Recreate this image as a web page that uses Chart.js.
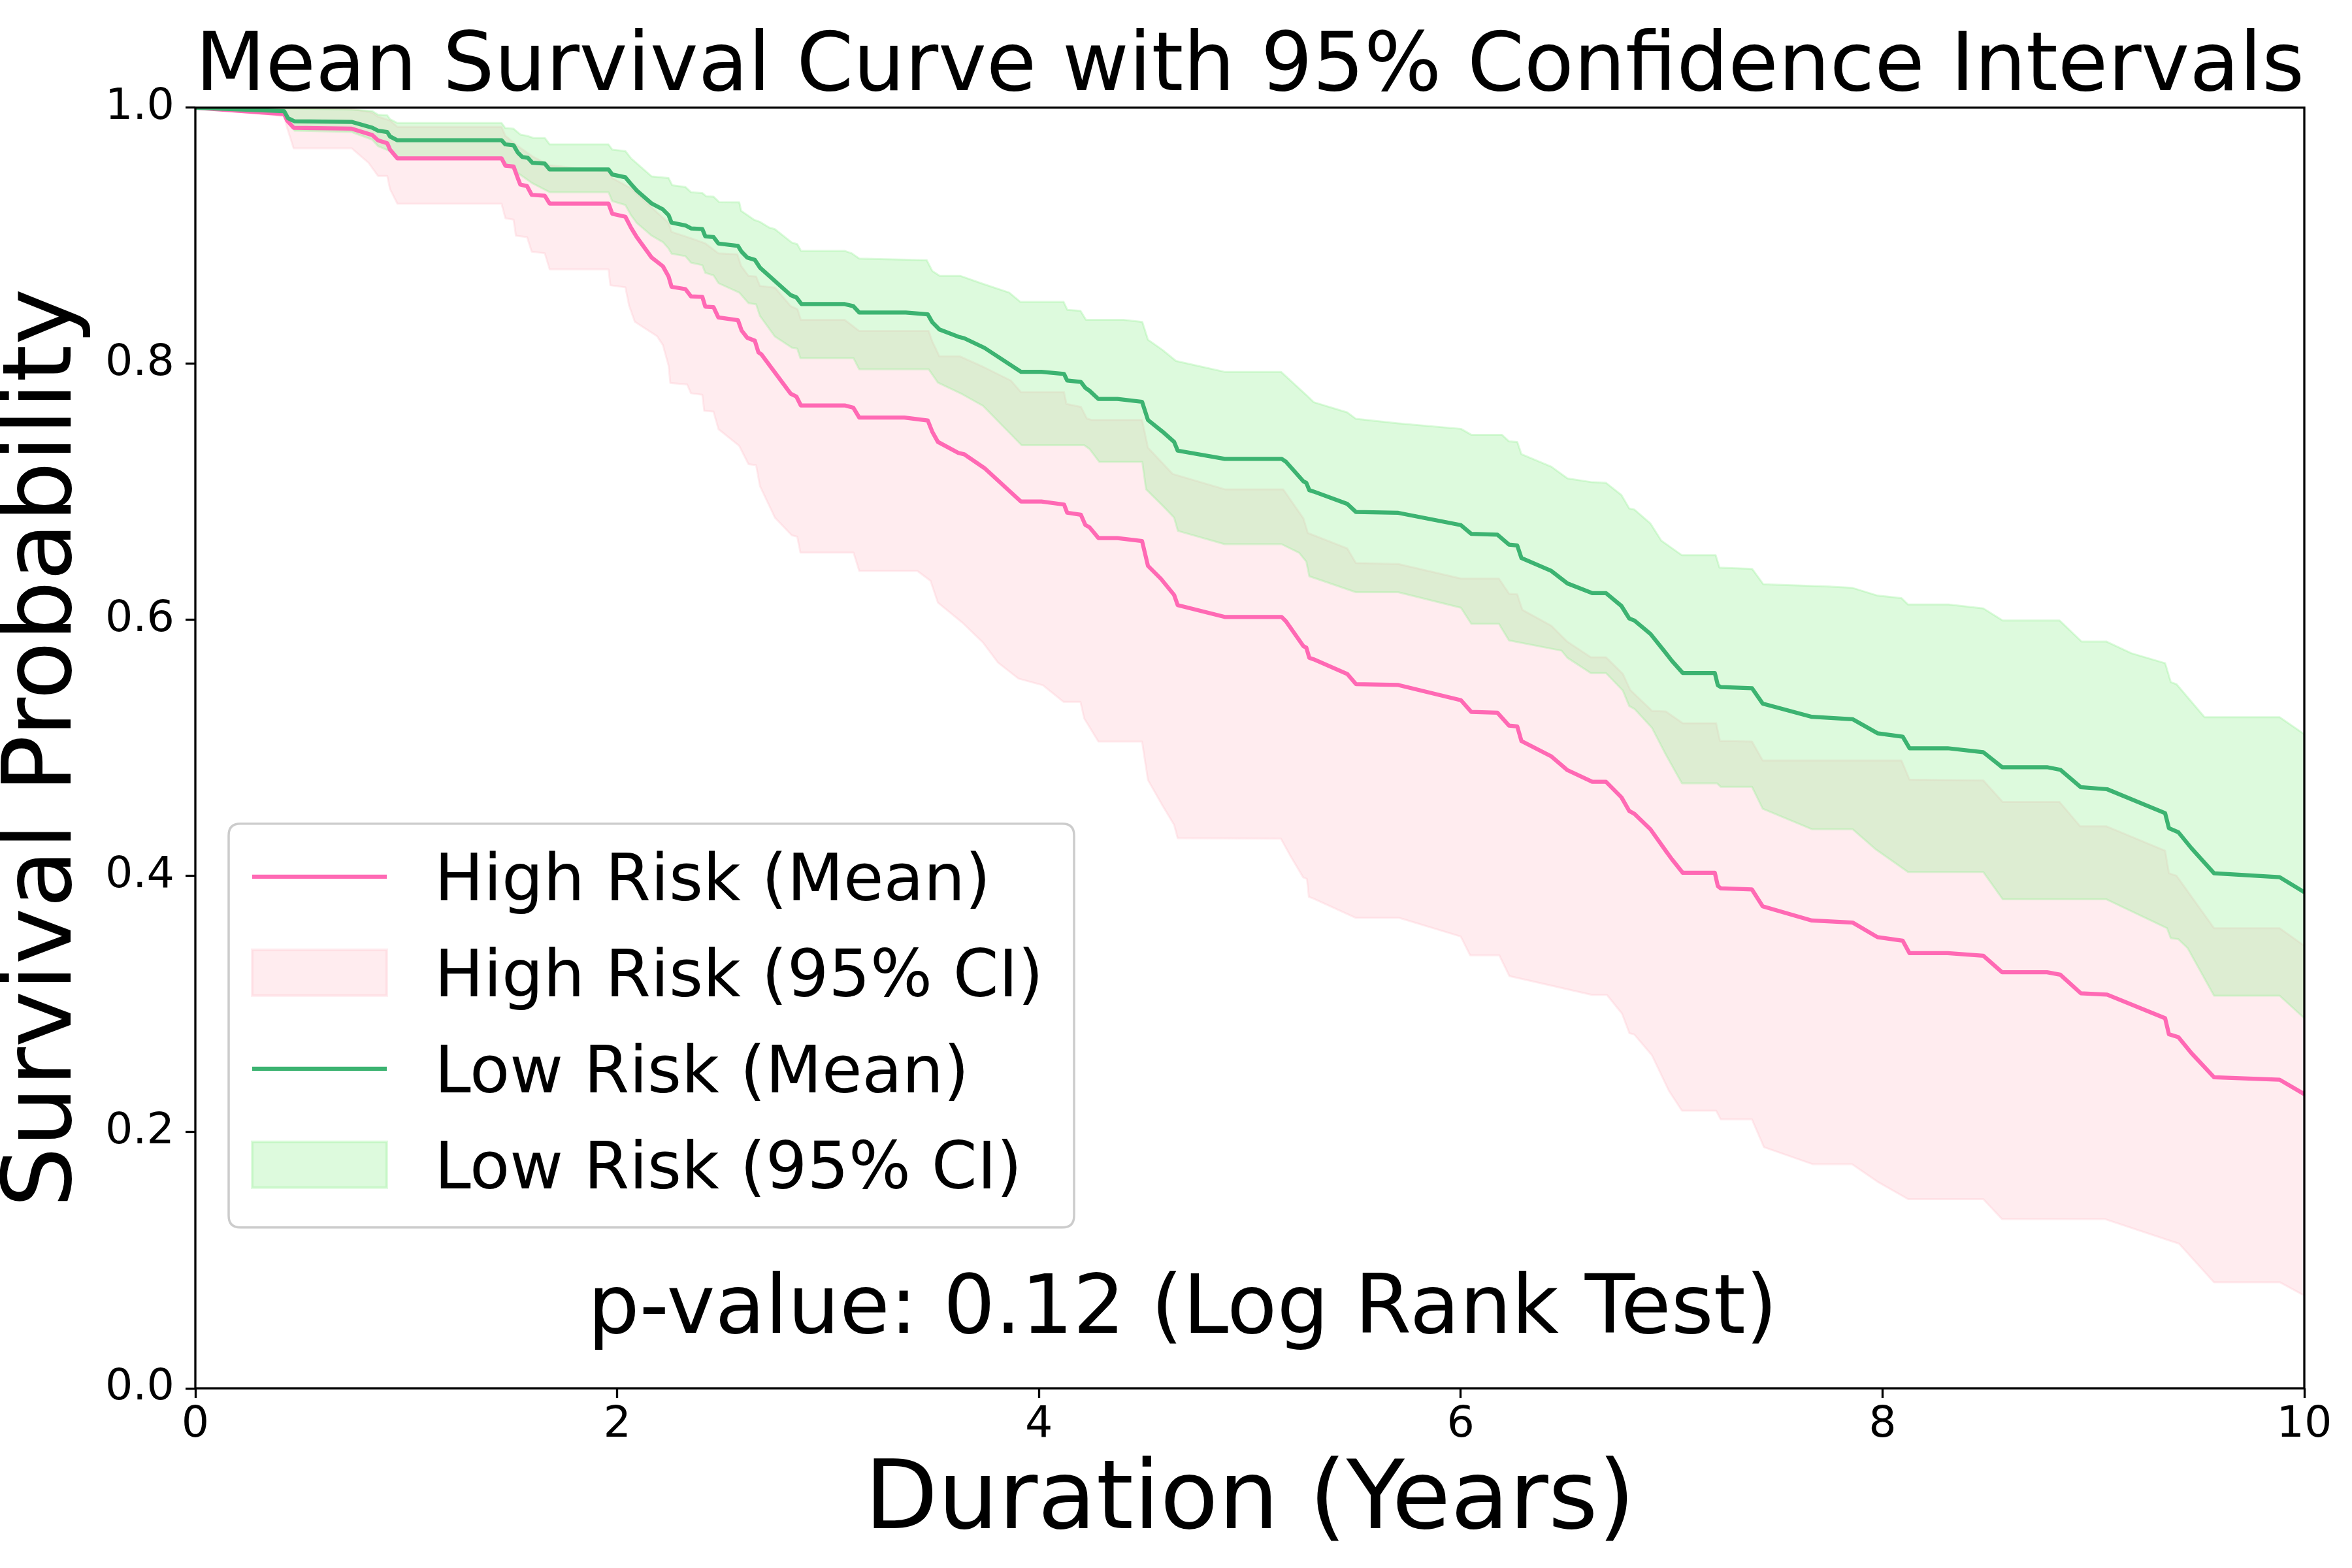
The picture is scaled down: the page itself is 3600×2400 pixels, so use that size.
<!DOCTYPE html>
<html>
<head>
<meta charset="utf-8">
<script src="https://cdn.jsdelivr.net/npm/chart.js@4.4.1/dist/chart.umd.min.js"></script>
<style>html,body{margin:0;padding:0;background:#fff;}canvas{display:block;}</style>
</head>
<body>
<canvas id="c" width="3600" height="2400" style="width:3600px;height:2400px"></canvas>
<script>
// ---------------- DATA ----------------
const chartTitle = 'Mean Survival Curve with 95% Confidence Intervals';
const xAxisTitle = 'Duration (Years)';
const yAxisTitle = 'Survival Probability';
const pValueText = 'p-value: 0.12 (Log Rank Test)';
const xTicks = [0, 2, 4, 6, 8, 10];
const yTicks = [0.0, 0.2, 0.4, 0.6, 0.8, 1.0];
const seriesLabels = ['High Risk (Mean)', 'High Risk (95% CI)', 'Low Risk (Mean)', 'Low Risk (95% CI)'];

// [time (years), survival probability]
const highRiskMean = [[0,1.0],[0.421,0.995],[0.435,0.990],[0.466,0.9843],[0.741,0.9836],[0.839,0.9786],[0.866,0.9745],[0.910,0.9722],[0.923,0.9672],[0.958,0.9604],[1.452,0.9604],[1.470,0.9547],[1.509,0.954],[1.529,0.9449],[1.541,0.9399],[1.573,0.9387],[1.595,0.9319],[1.657,0.9312],[1.680,0.9251],[1.959,0.9251],[1.977,0.9171],[2.039,0.9148],[2.066,0.9062],[2.093,0.8989],[2.164,0.8829],[2.217,0.8761],[2.244,0.8681],[2.258,0.8601],[2.324,0.8583],[2.350,0.8526],[2.404,0.8522],[2.418,0.8446],[2.457,0.8442],[2.480,0.8362],[2.573,0.834],[2.590,0.826],[2.617,0.8203],[2.653,0.818],[2.670,0.8089],[2.684,0.8074],[2.823,0.7766],[2.850,0.7744],[2.871,0.7675],[3.079,0.7675],[3.120,0.7657],[3.148,0.758],[3.362,0.758],[3.473,0.7557],[3.494,0.747],[3.521,0.739],[3.618,0.7304],[3.646,0.7293],[3.742,0.7185],[3.915,0.6924],[4.012,0.6924],[4.119,0.6901],[4.134,0.6837],[4.199,0.6821],[4.220,0.6741],[4.240,0.6723],[4.282,0.6639],[4.372,0.6639],[4.489,0.6616],[4.517,0.6422],[4.579,0.632],[4.641,0.6195],[4.658,0.6115],[4.881,0.6023],[5.151,0.6023],[5.172,0.5988],[5.254,0.5795],[5.268,0.5783],[5.282,0.5704],[5.303,0.5692],[5.462,0.5578],[5.503,0.5499],[5.704,0.5492],[6.001,0.5373],[6.050,0.5282],[6.174,0.5275],[6.229,0.5175],[6.268,0.5168],[6.288,0.5054],[6.430,0.4934],[6.506,0.4827],[6.624,0.4736],[6.689,0.4736],[6.762,0.4615],[6.799,0.4508],[6.824,0.4485],[6.900,0.4364],[6.973,0.4195],[7.001,0.4132],[7.053,0.4025],[7.205,0.4025],[7.219,0.3922],[7.233,0.3904],[7.381,0.3895],[7.432,0.3763],[7.665,0.3653],[7.858,0.3637],[7.976,0.3523],[8.096,0.3495],[8.128,0.3398],[8.309,0.3398],[8.478,0.3378],[8.567,0.3249],[8.780,0.3249],[8.843,0.3230],[8.940,0.3085],[9.065,0.3074],[9.340,0.289],[9.358,0.2765],[9.403,0.2742],[9.465,0.2617],[9.572,0.2429],[9.883,0.241],[10.0,0.2297]];

const highRiskUpper = [[0,1.0],[0.42,1.0],[0.74,0.999],[0.839,0.996],[0.866,0.993],[0.923,0.990],[0.958,0.985],[1.452,0.985],[1.470,0.978],[1.529,0.970],[1.598,0.962],[1.680,0.955],[1.959,0.9501],[1.977,0.945],[2.066,0.937],[2.164,0.922],[2.244,0.910],[2.258,0.903],[2.350,0.898],[2.418,0.894],[2.480,0.8863],[2.570,0.8855],[2.588,0.8764],[2.623,0.8686],[2.659,0.8681],[2.677,0.8608],[2.748,0.8595],[2.823,0.845],[2.855,0.8427],[2.871,0.8343],[3.079,0.8343],[3.148,0.8256],[3.477,0.8256],[3.494,0.8176],[3.528,0.8058],[3.625,0.8058],[3.742,0.7971],[3.867,0.7869],[3.915,0.7778],[4.119,0.7778],[4.130,0.7687],[4.199,0.7664],[4.227,0.7573],[4.251,0.7561],[4.489,0.7561],[4.517,0.7345],[4.634,0.714],[4.881,0.702],[5.158,0.702],[5.254,0.6793],[5.275,0.6679],[5.462,0.6558],[5.503,0.6444],[5.704,0.6437],[6.001,0.6323],[6.181,0.6323],[6.229,0.6205],[6.268,0.62],[6.292,0.6079],[6.430,0.5954],[6.506,0.5829],[6.617,0.5708],[6.689,0.5708],[6.769,0.5578],[6.804,0.5453],[6.907,0.5290],[6.973,0.5285],[7.053,0.5193],[7.211,0.5193],[7.229,0.5056],[7.381,0.505],[7.432,0.4902],[8.090,0.4902],[8.128,0.4753],[8.478,0.4747],[8.570,0.4578],[8.840,0.4578],[8.937,0.4389],[9.061,0.4389],[9.340,0.4198],[9.358,0.4022],[9.394,0.4003],[9.572,0.3593],[9.883,0.3593],[10.0,0.3456]];

const highRiskLower = [[0,1.0],[0.421,0.9934],[0.435,0.9843],[0.466,0.9683],[0.741,0.9683],[0.821,0.957],[0.866,0.9467],[0.910,0.9467],[0.923,0.9364],[0.958,0.925],[1.452,0.925],[1.470,0.9137],[1.509,0.9125],[1.520,0.900],[1.573,0.8989],[1.595,0.8875],[1.657,0.8863],[1.680,0.8738],[1.959,0.8738],[1.968,0.8613],[2.039,0.8597],[2.057,0.8453],[2.084,0.8328],[2.190,0.8214],[2.217,0.8146],[2.244,0.7986],[2.252,0.785],[2.332,0.7838],[2.350,0.777],[2.404,0.7758],[2.413,0.7633],[2.457,0.7626],[2.481,0.7489],[2.579,0.7359],[2.623,0.7216],[2.659,0.7208],[2.677,0.7046],[2.748,0.6799],[2.828,0.6661],[2.854,0.665],[2.869,0.6526],[3.121,0.6526],[3.148,0.6383],[3.423,0.6383],[3.486,0.6305],[3.521,0.6135],[3.637,0.5979],[3.735,0.5823],[3.806,0.5667],[3.903,0.5542],[4.019,0.549],[4.117,0.536],[4.197,0.536],[4.215,0.523],[4.282,0.505],[4.489,0.505],[4.517,0.475],[4.586,0.455],[4.641,0.44],[4.658,0.4296],[5.147,0.4293],[5.191,0.4162],[5.253,0.399],[5.271,0.3977],[5.280,0.3837],[5.298,0.3827],[5.502,0.3674],[5.707,0.3674],[6.000,0.3528],[6.045,0.3381],[6.183,0.3381],[6.231,0.3219],[6.622,0.3072],[6.693,0.3072],[6.765,0.2926],[6.800,0.2773],[6.823,0.2763],[6.907,0.26],[6.987,0.2324],[7.049,0.2168],[7.211,0.2168],[7.233,0.21],[7.381,0.21],[7.438,0.1883],[7.669,0.175],[7.856,0.175],[7.980,0.161],[8.122,0.1477],[8.478,0.1477],[8.567,0.1321],[9.056,0.1321],[9.372,0.1148],[9.406,0.113],[9.572,0.0828],[9.884,0.0828],[10.0,0.0725]];

const lowRiskMean = [[0,1.0],[0.421,0.9973],[0.439,0.9918],[0.471,0.9893],[0.741,0.9889],[0.839,0.9843],[0.866,0.982],[0.910,0.9809],[0.923,0.9775],[0.958,0.9745],[1.452,0.9745],[1.470,0.9713],[1.509,0.9706],[1.529,0.9649],[1.550,0.9615],[1.577,0.9608],[1.598,0.957],[1.657,0.9563],[1.680,0.9517],[1.959,0.9517],[1.977,0.9478],[2.039,0.9456],[2.066,0.9403],[2.093,0.9353],[2.164,0.9251],[2.217,0.9205],[2.244,0.916],[2.258,0.9102],[2.324,0.908],[2.350,0.9057],[2.404,0.9052],[2.418,0.8995],[2.457,0.8989],[2.480,0.8939],[2.573,0.892],[2.590,0.8875],[2.617,0.8829],[2.653,0.8811],[2.677,0.8751],[2.823,0.8536],[2.850,0.8518],[2.874,0.8466],[3.079,0.8466],[3.120,0.845],[3.148,0.840],[3.369,0.840],[3.473,0.8386],[3.494,0.8325],[3.528,0.8268],[3.618,0.8211],[3.646,0.8199],[3.742,0.8124],[3.915,0.7937],[4.012,0.7937],[4.119,0.7921],[4.134,0.7869],[4.199,0.7858],[4.220,0.7812],[4.240,0.7789],[4.282,0.7725],[4.372,0.7725],[4.489,0.7703],[4.517,0.7561],[4.586,0.747],[4.641,0.739],[4.658,0.7322],[4.881,0.7257],[5.151,0.7257],[5.172,0.7234],[5.254,0.7082],[5.268,0.707],[5.282,0.7013],[5.303,0.7002],[5.462,0.6906],[5.503,0.6843],[5.704,0.6836],[6.001,0.674],[6.050,0.6672],[6.174,0.6665],[6.229,0.6588],[6.268,0.6581],[6.288,0.6483],[6.430,0.6382],[6.506,0.6285],[6.624,0.6209],[6.689,0.6209],[6.762,0.6109],[6.799,0.6011],[6.824,0.5995],[6.900,0.589],[6.973,0.574],[7.001,0.5681],[7.053,0.5585],[7.205,0.5585],[7.219,0.549],[7.233,0.5476],[7.381,0.5467],[7.432,0.5346],[7.665,0.5243],[7.858,0.5225],[7.976,0.5115],[8.096,0.5088],[8.128,0.4998],[8.309,0.4998],[8.478,0.4967],[8.567,0.485],[8.780,0.485],[8.843,0.483],[8.940,0.4694],[9.065,0.4678],[9.340,0.4491],[9.358,0.4374],[9.403,0.4342],[9.465,0.4217],[9.572,0.4022],[9.883,0.3991],[10.0,0.3874]];

const lowRiskUpper = [[0,1.0],[0.421,0.9995],[0.74,0.9985],[0.839,0.9973],[0.866,0.9945],[0.910,0.994],[0.923,0.991],[0.958,0.988],[1.452,0.988],[1.470,0.984],[1.509,0.9835],[1.541,0.979],[1.573,0.978],[1.604,0.9763],[1.657,0.9763],[1.680,0.9713],[1.959,0.9713],[1.977,0.9672],[2.039,0.9661],[2.066,0.9604],[2.164,0.9463],[2.244,0.945],[2.261,0.9394],[2.324,0.938],[2.350,0.934],[2.404,0.9333],[2.422,0.9308],[2.457,0.9305],[2.484,0.9262],[2.579,0.926],[2.588,0.9194],[2.650,0.9124],[2.677,0.9108],[2.721,0.9064],[2.748,0.9051],[2.828,0.8947],[2.854,0.8934],[2.872,0.8882],[3.077,0.8882],[3.112,0.8863],[3.148,0.8822],[3.468,0.8809],[3.494,0.8725],[3.530,0.8686],[3.628,0.8686],[3.726,0.8629],[3.859,0.8556],[3.912,0.8483],[4.117,0.8483],[4.135,0.8421],[4.197,0.8413],[4.223,0.8343],[4.401,0.8343],[4.490,0.8327],[4.517,0.8188],[4.586,0.8108],[4.650,0.8022],[4.881,0.7937],[5.148,0.7937],[5.269,0.7754],[5.303,0.770],[5.462,0.762],[5.503,0.757],[5.704,0.7535],[6.001,0.7492],[6.050,0.7446],[6.195,0.7446],[6.229,0.7394],[6.268,0.7389],[6.288,0.7294],[6.430,0.7196],[6.506,0.7105],[6.624,0.7075],[6.689,0.707],[6.762,0.6975],[6.799,0.687],[6.824,0.6861],[6.900,0.6752],[6.951,0.6619],[7.049,0.6505],[7.209,0.6505],[7.227,0.6408],[7.382,0.6398],[7.435,0.6278],[7.748,0.6261],[7.858,0.625],[7.976,0.619],[8.090,0.617],[8.121,0.612],[8.314,0.612],[8.478,0.609],[8.570,0.5995],[8.840,0.5995],[8.944,0.5831],[9.061,0.5831],[9.180,0.574],[9.340,0.5662],[9.367,0.5514],[9.394,0.5498],[9.527,0.524],[9.883,0.524],[10.0,0.5108]];

const lowRiskLower = [[0,1.0],[0.421,0.996],[0.47,0.982],[0.741,0.981],[0.839,0.975],[0.866,0.970],[0.923,0.966],[0.958,0.961],[1.452,0.961],[1.470,0.957],[1.529,0.949],[1.598,0.941],[1.680,0.934],[1.959,0.934],[1.977,0.927],[2.039,0.924],[2.066,0.916],[2.093,0.910],[2.164,0.900],[2.217,0.895],[2.244,0.890],[2.258,0.886],[2.324,0.884],[2.350,0.879],[2.404,0.877],[2.418,0.871],[2.457,0.869],[2.481,0.8629],[2.579,0.8556],[2.623,0.8473],[2.659,0.8465],[2.677,0.8374],[2.748,0.8213],[2.828,0.8127],[2.854,0.8119],[2.869,0.8043],[3.121,0.8043],[3.148,0.7957],[3.477,0.7957],[3.521,0.7853],[3.637,0.7762],[3.735,0.7671],[3.859,0.7463],[3.918,0.7364],[4.215,0.7364],[4.241,0.7333],[4.286,0.7234],[4.490,0.7234],[4.508,0.702],[4.588,0.689],[4.641,0.6799],[4.659,0.6695],[4.881,0.6591],[5.151,0.6591],[5.234,0.6524],[5.268,0.6455],[5.282,0.6341],[5.503,0.6216],[5.704,0.6216],[6.001,0.6095],[6.050,0.597],[6.181,0.597],[6.229,0.584],[6.478,0.576],[6.506,0.5704],[6.617,0.5585],[6.689,0.5585],[6.769,0.5448],[6.799,0.5328],[6.824,0.5305],[6.907,0.5157],[6.973,0.4947],[7.049,0.4724],[7.215,0.4724],[7.233,0.4697],[7.381,0.4697],[7.432,0.4526],[7.665,0.4366],[7.858,0.4366],[7.969,0.4207],[8.121,0.4031],[8.478,0.4031],[8.570,0.3819],[9.061,0.3819],[9.349,0.3593],[9.367,0.3515],[9.403,0.3507],[9.447,0.3437],[9.572,0.3066],[9.883,0.3066],[10.0,0.289]];

// ---------------- STYLES ----------------
const FONT = '"DejaVu Sans", "Liberation Sans", sans-serif';
const pinkLine = '#ff69b4';
const greenLine = '#3cb371';
const pinkFill = 'rgba(255,192,203,0.3)';
const greenFill = 'rgba(144,238,144,0.3)';

const toXY = arr => arr.map(p => ({x: p[0], y: p[1]}));

const datasets = [
  {label: seriesLabels[2], data: toXY(lowRiskMean), borderColor: greenLine, backgroundColor: greenLine, borderWidth: 6.25, fill: false, order: 0, legendType: 'line'},
  {label: seriesLabels[0], data: toXY(highRiskMean), borderColor: pinkLine, backgroundColor: pinkLine, borderWidth: 6.25, fill: false, order: 1, legendType: 'line'},
  {label: seriesLabels[3], data: toXY(lowRiskUpper), borderColor: greenFill, backgroundColor: greenFill, borderWidth: 3, fill: '+1', order: 2, legendType: 'rect'},
  {label: '', data: toXY(lowRiskLower), borderColor: greenFill, backgroundColor: greenFill, borderWidth: 3, fill: false, order: 3},
  {label: seriesLabels[1], data: toXY(highRiskUpper), borderColor: pinkFill, backgroundColor: pinkFill, borderWidth: 3, fill: '+1', order: 4, legendType: 'rect'},
  {label: '', data: toXY(highRiskLower), borderColor: pinkFill, backgroundColor: pinkFill, borderWidth: 3, fill: false, order: 5}
];

// frame (spines), legend and annotation
const decorPlugin = {
  id: 'decor',
  afterDraw(chart) {
    const ctx = chart.ctx;
    const a = chart.chartArea;
    ctx.save();
    // spines
    ctx.strokeStyle = '#000';
    ctx.lineWidth = 3.3;
    ctx.strokeRect(a.left, a.top, a.right - a.left, a.bottom - a.top);

    // legend
    const L = a.left + 51, T = a.top + 1096, R = a.left + 1345, B = a.top + 1714, r = 18;
    ctx.beginPath();
    ctx.moveTo(L + r, T);
    ctx.lineTo(R - r, T); ctx.quadraticCurveTo(R, T, R, T + r);
    ctx.lineTo(R, B - r); ctx.quadraticCurveTo(R, B, R - r, B);
    ctx.lineTo(L + r, B); ctx.quadraticCurveTo(L, B, L, B - r);
    ctx.lineTo(L, T + r); ctx.quadraticCurveTo(L, T, L + r, T);
    ctx.closePath();
    ctx.fillStyle = 'rgba(255,255,255,0.8)';
    ctx.fill();
    ctx.lineWidth = 3.5;
    ctx.strokeStyle = '#cccccc';
    ctx.stroke();

    const order = [seriesLabels[0], seriesLabels[1], seriesLabels[2], seriesLabels[3]];
    const hx0 = a.left + 87, hx1 = a.left + 293, tx = a.left + 366;
    const firstBase = a.top + 1213, step = 147;
    ctx.font = '100px ' + FONT;
    ctx.textAlign = 'left';
    ctx.textBaseline = 'alphabetic';
    order.forEach((lab, i) => {
      const ds = chart.data.datasets.find(d => d.label === lab);
      const base = firstBase + i * step;
      const cy = base - 36;
      if (ds.legendType === 'line') {
        ctx.strokeStyle = ds.borderColor;
        ctx.lineWidth = 6.25;
        ctx.beginPath(); ctx.moveTo(hx0, cy); ctx.lineTo(hx1, cy); ctx.stroke();
      } else {
        ctx.fillStyle = ds.backgroundColor;
        ctx.fillRect(hx0, cy - 35, hx1 - hx0, 70);
        ctx.strokeStyle = ds.borderColor;
        ctx.lineWidth = 4;
        ctx.strokeRect(hx0, cy - 35, hx1 - hx0, 70);
      }
      ctx.fillStyle = '#000';
      ctx.fillText(lab, tx, base);
    });

    // p-value annotation
    ctx.font = '125px ' + FONT;
    ctx.textAlign = 'center';
    ctx.fillStyle = '#000';
    ctx.fillText(pValueText, a.left + 1511, a.top + 1875);
    ctx.restore();
  }
};

new Chart(document.getElementById('c'), {
  type: 'line',
  data: {datasets},
  options: {
    responsive: false,
    animation: false,
    devicePixelRatio: 1,
    parsing: true,
    elements: {point: {radius: 0, hoverRadius: 0}, line: {tension: 0, borderJoinStyle: 'round', borderCapStyle: 'butt'}},
    layout: {padding: {left: 0, right: 73, top: 0, bottom: 0}},
    plugins: {
      legend: {display: false},
      tooltip: {enabled: false},
      filler: {propagate: false},
      title: {
        display: true,
        fullSize: false,
        text: chartTitle,
        color: '#000',
        font: {family: FONT, size: 125, weight: 'normal', lineHeight: 0.95},
        padding: {top: 46, bottom: 0}
      }
    },
    scales: {
      x: {
        type: 'linear', min: 0, max: 10,
        afterFit: s => { s.height = 275; },
        afterBuildTicks: s => { s.ticks = xTicks.map(v => ({value: v})); },
        ticks: {color: '#000', font: {family: FONT, size: 66.7}, padding: 2, maxRotation: 0, autoSkip: false, callback: v => String(v)},
        grid: {display: true, drawOnChartArea: false, drawTicks: true, tickLength: 15, tickWidth: 3.3, tickColor: '#000'},
        border: {display: false},
        title: {display: true, text: xAxisTitle, color: '#000', font: {family: FONT, size: 146, lineHeight: 1.2}, padding: {top: 0, bottom: 11}}
      },
      y: {
        type: 'linear', min: 0, max: 1,
        afterFit: s => { s.width = 299; },
        afterBuildTicks: s => { s.ticks = yTicks.map(v => ({value: v})); },
        ticks: {color: '#000', font: {family: FONT, size: 66.7}, padding: 17, autoSkip: false, callback: v => Number(v).toFixed(1)},
        grid: {display: true, drawOnChartArea: false, drawTicks: true, tickLength: 15, tickWidth: 3.3, tickColor: '#000'},
        border: {display: false},
        title: {display: true, text: yAxisTitle, color: '#000', font: {family: FONT, size: 146, lineHeight: 0.8}, padding: {top: 12, bottom: 0}}
      }
    }
  },
  plugins: [decorPlugin]
});
</script>
</body>
</html>
